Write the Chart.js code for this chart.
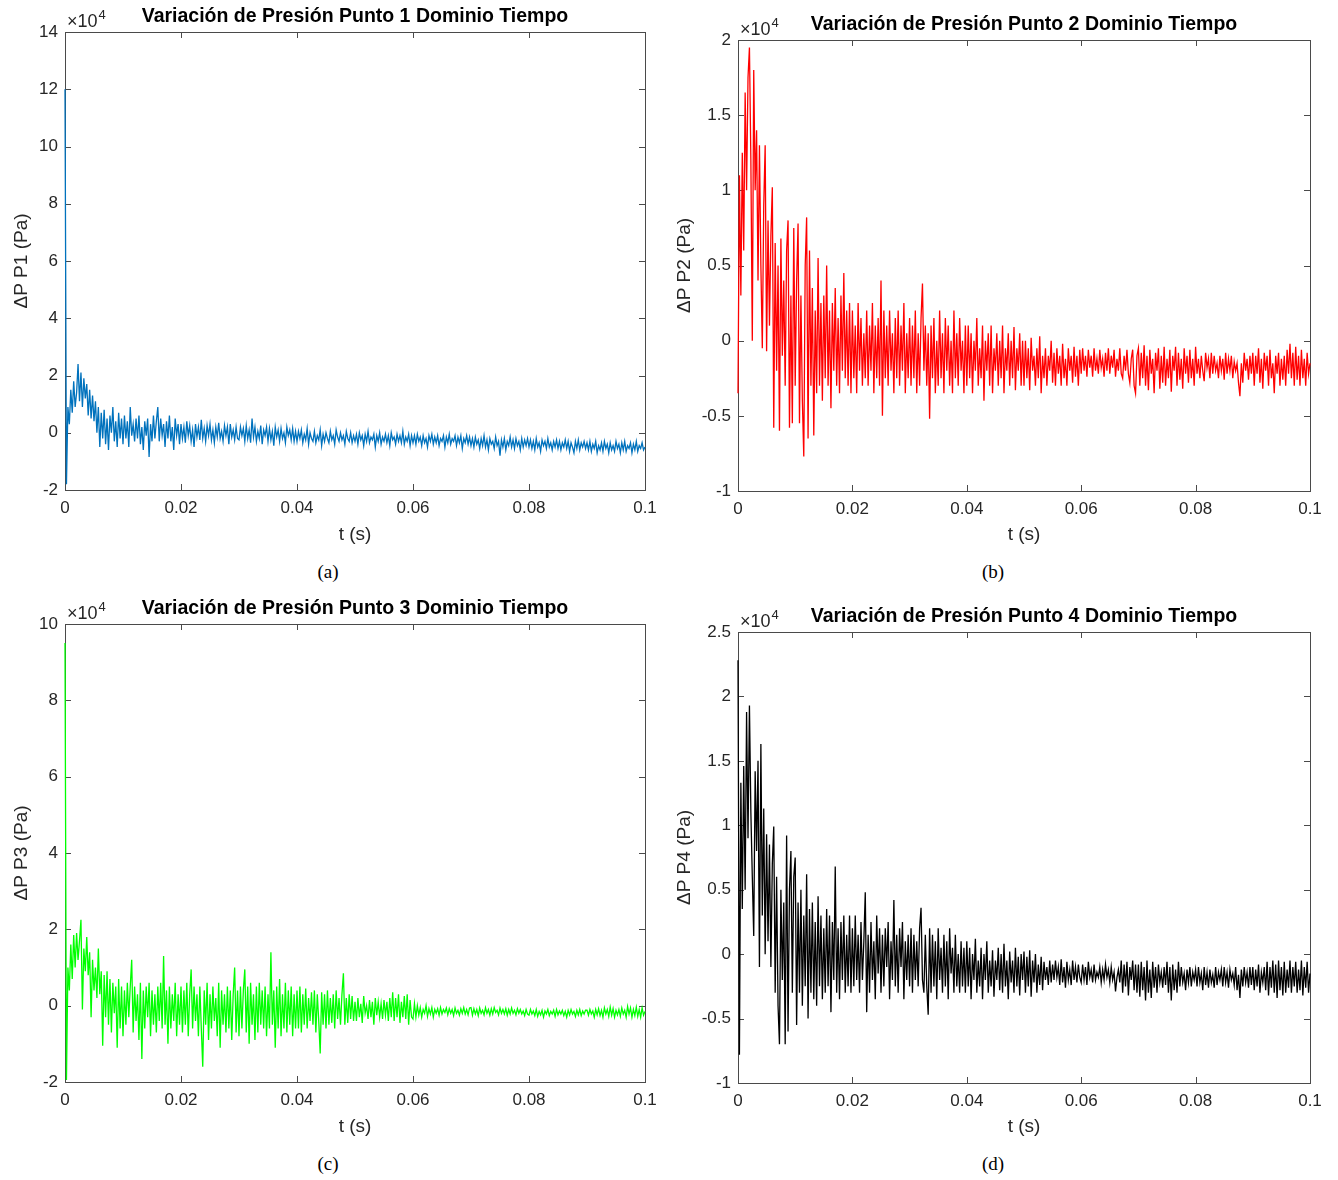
<!DOCTYPE html>
<html>
<head>
<meta charset="utf-8">
<script src="https://cdn.jsdelivr.net/npm/chart.js@4.4.0/dist/chart.umd.min.js"></script>
<style>
  body { margin: 0; background: #fff; }
  #page { position: relative; width: 1338px; height: 1180px; }
  canvas { position: absolute; }
  .cap { position: absolute; width: 100px; text-align: center; font: 19px "Liberation Serif", "Times New Roman", serif; color: #000; line-height: 22px; }
</style>
</head>
<body>
<div id="page">
  <canvas id="p1Chart" width="669" height="555" style="left:0;top:0"></canvas>
  <canvas id="p2Chart" width="673" height="555" style="left:665px;top:0"></canvas>
  <canvas id="p3Chart" width="669" height="555" style="left:0;top:592px"></canvas>
  <canvas id="p4Chart" width="673" height="555" style="left:665px;top:592px"></canvas>
  <div class="cap" style="left:278px;top:561px">(a)</div>
  <div class="cap" style="left:943px;top:561px">(b)</div>
  <div class="cap" style="left:278px;top:1153px">(c)</div>
  <div class="cap" style="left:943px;top:1153px">(d)</div>
</div>
<script>
// Presion en unidades de 1e4 Pa, muestras uniformes de 0 a 0.1 s
const T_END = 0.1;
const timeTicks = [0, 0.02, 0.04, 0.06, 0.08, 0.1];

const p1Ticks = [-2, 0, 2, 4, 6, 8, 10, 12, 14];
const p2Ticks = [-1, -0.5, 0, 0.5, 1, 1.5, 2];
const p3Ticks = [-2, 0, 2, 4, 6, 8, 10];
const p4Ticks = [-1, -0.5, 0, 0.5, 1, 1.5, 2, 2.5];

const p1Values = [
  12, -1.8, 0.9, 0.3, 1.5, 0.7, 1.8, 0.9, 1.4, 2.4, 1.1, 2.1, 0.9, 1.9, 1.2, 1.7, 0.6, 1.5, 0.5, 1.3,
  0.4, 1.1, 0.0, 0.9, -0.5, 0.7, -0.2, 0.8, -0.4, 0.5, -0.6, 0.6, 0.0, 0.9, -0.3, 0.4, -0.5, 0.7, -0.2, 0.5,
  -0.4, 0.6, -0.2, 0.4, -0.5, 0.9, -0.1, 0.3, -0.3, 0.5, -0.2, 0.6, -0.4, 0.2, -0.6, 0.4, -0.1, 0.5, -0.85, 0.3,
  -0.3, 0.6, -0.2, 0.4, 0.9, -0.3, 0.5, -0.1, 0.3, -0.5, 0.4, -0.2, 0.6, -0.3, 0.2, -0.6, 0.5, -0.1, 0.3, -0.4,
  0.3, -0.2, 0.2, -0.35, 0.4, -0.1, 0.25, -0.3, 0.1, -0.5, 0.3, -0.15, 0.2, -0.25, 0.45, -0.2, 0.15, -0.3, 0.25, -0.1,
  0.3, -0.25, 0.1, -0.35, 0.2, -0.15, 0.35, -0.2, 0.05, -0.3, 0.25, -0.1, 0.2, -0.4, 0.3, -0.15, 0.1, -0.25, 0.2, -0.2,
  -0.25, 0.2, -0.1, 0.15, -0.3, 0.25, -0.2, 0.1, -0.35, 0.5, -0.15, 0.2, -0.3, 0.05, -0.2, 0.25, -0.4, 0.1, -0.1, 0.2,
  -0.3, 0.15, -0.25, 0.05, -0.45, 0.2, -0.15, 0.1, -0.3, 0.15, -0.2, 0.0, -0.35, 0.2, -0.1, 0.1, -0.25, 0.15, -0.3, 0.05,
  -0.3, 0.05, -0.2, 0.1, -0.35, -0.05, -0.25, 0.15, -0.4, 0.0, -0.2, -0.3, 0.05, -0.35, -0.1, -0.25, 0.1, -0.45, -0.05, -0.3,
  0.0, -0.2, -0.35, 0.05, -0.25, -0.1, -0.4, 0.1, -0.15, -0.3, 0.0, -0.25, -0.1, -0.4, 0.05, -0.2, -0.3, 0.0, -0.35, -0.1,
  -0.3, -0.05, -0.4, 0.0, -0.25, -0.1, -0.45, -0.05, -0.3, 0.05, -0.35, -0.15, -0.25, -0.05, -0.5, -0.1, -0.3, 0.0, -0.4, -0.15,
  -0.3, -0.05, -0.35, -0.1, -0.45, 0.0, -0.25, -0.15, -0.4, -0.05, -0.3, -0.1, -0.35, 0.05, -0.4, -0.15, -0.3, -0.05, -0.45, -0.1,
  -0.35, -0.1, -0.4, -0.05, -0.3, -0.15, -0.45, -0.1, -0.35, -0.2, -0.5, -0.1, -0.3, -0.05, -0.4, -0.15, -0.35, -0.1, -0.45, -0.2,
  -0.3, -0.1, -0.5, -0.15, -0.35, -0.05, -0.4, -0.2, -0.3, -0.1, -0.45, -0.15, -0.35, -0.1, -0.55, -0.2, -0.35, -0.1, -0.4, -0.15,
  -0.45, -0.2, -0.5, -0.15, -0.4, -0.25, -0.55, -0.2, -0.45, -0.1, -0.5, -0.25, -0.6, -0.2, -0.4, -0.3, -0.55, -0.15, -0.45, -0.3,
  -0.8, -0.25, -0.5, -0.2, -0.6, -0.3, -0.45, -0.15, -0.5, -0.25, -0.55, -0.2, -0.45, -0.3, -0.6, -0.2, -0.5, -0.25, -0.45, -0.2,
  -0.5, -0.25, -0.55, -0.3, -0.6, -0.2, -0.5, -0.35, -0.65, -0.25, -0.45, -0.3, -0.55, -0.2, -0.5, -0.35, -0.6, -0.3, -0.5, -0.25,
  -0.55, -0.3, -0.6, -0.35, -0.5, -0.25, -0.55, -0.3, -0.65, -0.35, -0.5, -0.7, -0.3, -0.55, -0.25, -0.6, -0.35, -0.5, -0.3, -0.55,
  -0.35, -0.6, -0.3, -0.65, -0.4, -0.55, -0.3, -0.7, -0.45, -0.6, -0.35, -0.65, -0.3, -0.55, -0.4, -0.7, -0.35, -0.6, -0.45, -0.65,
  -0.3, -0.55, -0.4, -0.7, -0.35, -0.6, -0.3, -0.65, -0.45, -0.55, -0.35, -0.7, -0.4, -0.6, -0.3, -0.65, -0.45, -0.55, -0.35, -0.6, -0.5
];

const p2Values = [
  -0.35, 1.1, 0.3, 1.25, 0.6, 1.65, 1.0, 1.75, 1.95, 1.2, 0.0, 1.8, 1.0, 1.4, 0.4, 1.3, 0.5, -0.05, 0.9, 1.3,
  -0.07, 0.8, 0.1, 0.7, 1.02, -0.58, 0.65, -0.2, 0.5, -0.6, 0.68, -0.1, 0.4, -0.3, 0.6, 0.8, -0.58, 0.3, -0.55, 0.75,
  -0.3, 0.4, 0.78, -0.55, 0.3, -0.4, -0.77, 0.5, 0.82, -0.65, 0.6, -0.3, 0.35, -0.63, 0.2, -0.35, 0.55, -0.3, 0.25, -0.4,
  0.3, -0.25, 0.5, -0.3, 0.2, -0.45, 0.25, -0.2, 0.35, -0.3, 0.15, -0.35, 0.3, -0.2, 0.45, -0.25, 0.2, -0.3, 0.25, -0.35,
  0.2, -0.25, 0.1, -0.35, 0.25, -0.2, 0.15, -0.3, 0.05, -0.25, 0.2, -0.3, 0.1, -0.2, 0.25, -0.35, 0.1, -0.25, 0.15, -0.3,
  0.4, -0.5, 0.2, -0.25, 0.1, -0.3, 0.2, -0.2, 0.05, -0.35, 0.15, -0.25, 0.2, -0.3, 0.1, -0.2, 0.25, -0.35, 0.05, -0.25,
  0.15, -0.3, 0.1, -0.25, 0.2, -0.35, 0.05, -0.3, 0.15, 0.38, -0.2, 0.1, -0.3, 0.05, -0.52, 0.1, -0.25, 0.15, -0.35, 0.0,
  -0.3, 0.2, -0.25, 0.05, -0.35, 0.15, -0.2, 0.1, -0.3, 0.0, -0.35, 0.2, -0.25, 0.05, -0.3, 0.15, -0.2, 0.0, -0.35, 0.1,
  -0.3, 0.1, -0.25, 0.05, -0.35, 0.0, -0.2, 0.15, -0.3, -0.05, -0.25, 0.1, -0.4, 0.0, -0.2, 0.05, -0.3, 0.1, -0.35, -0.05,
  -0.2, 0.05, -0.3, 0.0, -0.25, 0.1, -0.35, -0.05, -0.2, 0.05, -0.3, 0.0, -0.25, 0.09, -0.33, -0.05, -0.2, 0.05, -0.3, 0.0,
  -0.3, 0.0, -0.25, -0.05, -0.33, 0.02, -0.2, -0.1, -0.3, -0.05, -0.25, 0.03, -0.35, -0.1, -0.25, -0.05, -0.3, -0.1, -0.2, 0.0,
  -0.28, -0.08, -0.3, -0.05, -0.22, -0.1, -0.3, -0.02, -0.25, -0.12, -0.3, -0.05, -0.2, -0.1, -0.28, -0.04, -0.24, -0.1, -0.3, -0.06,
  -0.22, -0.05, -0.2, -0.1, -0.24, -0.06, -0.18, -0.1, -0.24, -0.05, -0.2, -0.12, -0.22, -0.06, -0.18, -0.12, -0.24, -0.08, -0.2, -0.05,
  -0.22, -0.1, -0.18, -0.06, -0.24, -0.12, -0.2, -0.05, -0.22, -0.25, -0.1, -0.2, -0.06, -0.22, -0.28, -0.12, -0.06, -0.3, -0.35, -0.1,
  -0.05, -0.3, -0.08, -0.25, -0.03, -0.3, -0.1, -0.33, -0.06, -0.22, -0.12, -0.35, -0.08, -0.2, -0.05, -0.32, -0.1, -0.28, -0.04, -0.3,
  -0.12, -0.25, -0.06, -0.34, -0.1, -0.2, -0.04, -0.3, -0.08, -0.26, -0.12, -0.32, -0.05, -0.22, -0.1, -0.28, -0.06, -0.25, -0.12, -0.3,
  -0.04, -0.22, -0.12, -0.25, -0.1, -0.2, -0.27, -0.08, -0.18, -0.12, -0.25, -0.08, -0.22, -0.1, -0.2, -0.15, -0.25, -0.1, -0.2, -0.12,
  -0.26, -0.08, -0.22, -0.12, -0.2, -0.1, -0.25, -0.14, -0.2, -0.15, -0.28, -0.37, -0.15, -0.28, -0.08, -0.2, -0.12, -0.26, -0.1, -0.22,
  -0.08, -0.3, -0.1, -0.22, -0.05, -0.28, -0.12, -0.32, -0.08, -0.2, -0.1, -0.3, -0.06, -0.25, -0.15, -0.35, -0.1, -0.22, -0.08, -0.3,
  -0.12, -0.26, -0.1, -0.3, -0.06, -0.22, -0.02, -0.25, -0.08, -0.3, -0.04, -0.26, -0.1, -0.3, -0.06, -0.25, -0.12, -0.3, -0.08, -0.22, -0.15
];

const p3Values = [
  9.5, -1.95, 1.0, 0.4, 1.6, 0.7, 1.85, 1.0, 1.9, 1.2, 1.7, 2.25, -0.1, 1.5, 0.9, 1.8, 0.8, 1.4, -0.3, 1.2,
  0.4, 1.0, 0.2, 1.5, 0.3, 0.9, -1.05, 0.8, -0.3, 0.9, -0.5, 0.7, -0.7, 0.6, -0.2, 0.5, -1.1, 0.7, -0.6, 0.5,
  -0.8, 0.4, -0.5, 0.6, -0.3, 0.5, 1.2, -0.7, 0.5, -0.4, 0.3, -0.9, 0.6, -1.4, 0.4, -0.6, 0.5, -0.3, 0.6, -0.8,
  0.4, -0.5, 0.3, -0.7, 0.5, -0.4, 0.6, -0.6, 1.3, -0.5, 0.4, -1.0, 0.5, -0.6, 0.3, -0.4, 0.6, -0.8, 0.3, -0.5,
  0.5, -0.7, 0.4, -0.5, 0.6, -0.8, 0.3, 0.95, -0.6, 0.5, -0.4, 0.3, -0.8, 0.5, -0.6, -1.6, 0.4, -0.5, 0.6, -0.9,
  0.3, -0.6, 0.5, -0.4, 0.2, -0.8, 0.6, -1.1, 0.4, -0.5, 0.3, -0.7, 0.5, -0.6, 0.4, -0.9, 0.3, 1.0, -0.7, 0.4,
  -0.8, 0.5, -0.6, 0.4, 0.95, -0.7, 0.5, -1.0, 0.6, -0.5, 0.3, -0.9, 0.5, -0.7, 0.6, -0.5, 0.4, -0.6, 0.5, -0.8,
  0.3, -0.6, 1.4, -0.5, 0.4, -1.1, 0.5, -0.6, 0.7, -0.8, 0.3, -0.6, 0.6, -0.7, 0.4, -0.5, 0.5, -0.8, 0.3, -0.6,
  0.4, -0.6, 0.5, -0.7, 0.3, -0.5, 0.45, -0.6, 0.2, -0.4, 0.35, -0.5, 0.4, -0.7, 0.3, -0.4, -1.25, 0.35, -0.5, 0.3,
  -0.6, 0.4, -0.5, 0.2, -0.45, 0.3, -0.6, 0.4, -0.35, 0.2, -0.5, 0.3, 0.85, -0.5, 0.2, -0.45, 0.3, -0.35, 0.25, -0.4,
  0.1, -0.4, 0.2, -0.3, 0.05, -0.45, 0.25, -0.2, 0.0, -0.35, 0.15, -0.3, 0.1, -0.5, 0.2, -0.25, 0.1, -0.3, 0.05, -0.35,
  0.15, -0.25, 0.1, -0.4, 0.2, -0.3, 0.35, -0.4, 0.2, -0.3, 0.3, -0.45, 0.1, -0.3, 0.25, -0.35, 0.3, -0.5, 0.15, -0.3,
  -0.35, 0.05, -0.3, 0.0, -0.25, -0.05, -0.3, -0.1, -0.2, 0.0, -0.28, -0.08, -0.22, -0.05, -0.3, -0.1, -0.2, -0.08, -0.25, -0.05,
  -0.22, -0.1, -0.18, -0.06, -0.24, -0.08, -0.2, -0.1, -0.26, -0.06, -0.2, -0.12, -0.25, -0.08, -0.2, -0.05, -0.22, -0.1, -0.24, -0.06,
  -0.05, -0.25, -0.08, -0.22, -0.1, -0.26, -0.06, -0.2, -0.12, -0.24, -0.05, -0.2, -0.1, -0.25, -0.08, -0.22, -0.05, -0.18, -0.12, -0.24,
  -0.06, -0.2, -0.1, -0.22, -0.08, -0.25, -0.1, -0.22, -0.06, -0.2, -0.12, -0.24, -0.08, -0.2, -0.1, -0.22, -0.14, -0.26, -0.1, -0.22,
  -0.25, -0.1, -0.22, -0.14, -0.26, -0.1, -0.28, -0.15, -0.24, -0.12, -0.3, -0.14, -0.22, -0.1, -0.26, -0.15, -0.22, -0.12, -0.28, -0.1,
  -0.24, -0.14, -0.22, -0.12, -0.26, -0.15, -0.3, -0.12, -0.24, -0.1, -0.22, -0.15, -0.28, -0.12, -0.24, -0.1, -0.26, -0.14, -0.22, -0.12,
  -0.12, -0.25, -0.1, -0.22, -0.14, -0.3, -0.1, -0.24, -0.08, -0.26, -0.12, -0.3, -0.06, -0.22, -0.1, -0.28, -0.04, -0.25, -0.08, -0.3,
  -0.12, -0.24, -0.1, -0.28, -0.06, -0.22, -0.12, -0.3, -0.02, -0.22, -0.06, -0.3, -0.1, -0.26, -0.04, -0.28, -0.1, -0.3, -0.06, -0.25, -0.15
];

const p4Values = [
  2.28, -0.78, 1.33, 0.35, 1.46, 0.5, 1.88, 0.9, 1.93, 1.1, 0.6, 0.14, 1.42, 0.8, 1.5, -0.1, 1.63, 0.3, 1.13, 0.0,
  0.93, 0.1, 0.85, -0.1, 0.7, 0.99, -0.3, 0.6, -0.4, -0.7, 0.5, -0.2, 0.4, -0.7, 0.92, -0.6, 0.5, 0.8, -0.3, 0.6,
  0.75, -0.55, 0.4, -0.3, 0.5, -0.4, 0.3, -0.25, 0.62, -0.5, 0.35, -0.3, 0.4, -0.35, 0.25, -0.4, 0.45, -0.25, 0.3, -0.35,
  0.2, -0.3, 0.35, -0.25, 0.3, -0.45, 0.25, -0.2, 0.68, -0.3, 0.2, -0.35, 0.25, -0.2, 0.3, -0.3, 0.15, -0.25, 0.3, -0.3,
  0.2, -0.25, 0.3, -0.2, 0.15, -0.3, 0.25, -0.2, 0.1, 0.48, -0.45, 0.15, -0.3, 0.25, -0.2, 0.1, -0.35, 0.3, -0.15, 0.2,
  -0.3, 0.15, -0.25, 0.2, -0.1, 0.25, -0.35, 0.1, -0.2, 0.42, -0.25, 0.15, -0.3, 0.2, -0.1, 0.25, -0.35, 0.1, -0.2, 0.15,
  -0.25, 0.2, -0.3, 0.15, -0.2, 0.1, -0.25, 0.2, 0.36, -0.2, -0.3, 0.15, -0.25, -0.47, 0.2, -0.3, 0.15, -0.25, 0.1, -0.35,
  0.2, -0.2, 0.05, -0.3, 0.15, -0.25, 0.1, -0.35, 0.2, -0.15, 0.05, -0.3, 0.15, -0.25, 0.0, -0.3, 0.1, -0.25, 0.05, -0.3,
  0.1, -0.25, 0.05, -0.35, 0.0, -0.2, 0.12, -0.3, -0.05, -0.25, 0.05, -0.35, 0.0, -0.2, 0.1, -0.3, -0.05, -0.25, 0.03, -0.33,
  -0.05, -0.2, 0.05, -0.28, 0.0, -0.3, 0.08, -0.25, -0.05, -0.35, 0.02, -0.22, -0.05, -0.3, 0.05, -0.25, -0.02, -0.32, 0.0, -0.2,
  0.02, -0.3, -0.02, -0.25, 0.03, -0.33, -0.05, -0.22, 0.0, -0.3, -0.08, -0.24, -0.02, -0.28, -0.06, -0.2, -0.1, -0.24, -0.05, -0.22,
  -0.08, -0.2, -0.05, -0.18, -0.1, -0.24, -0.04, -0.22, -0.1, -0.26, -0.06, -0.2, -0.12, -0.24, -0.05, -0.2, -0.1, -0.22, -0.08, -0.18,
  -0.22, -0.08, -0.2, -0.1, -0.24, -0.06, -0.18, -0.12, -0.22, -0.08, -0.2, -0.14, -0.18, -0.1, -0.22, -0.12, -0.2, -0.08, -0.18, -0.12,
  -0.22, -0.1, -0.2, -0.14, -0.29, -0.18, -0.12, -0.22, -0.05, -0.3, -0.08, -0.25, -0.06, -0.32, -0.1, -0.2, -0.05, -0.28, -0.08, -0.3,
  -0.08, -0.33, -0.06, -0.28, -0.1, -0.36, -0.05, -0.3, -0.12, -0.34, -0.06, -0.26, -0.1, -0.3, -0.08, -0.22, -0.14, -0.26, -0.1, -0.24,
  -0.06, -0.3, -0.1, -0.36, -0.08, -0.28, -0.12, -0.3, -0.06, -0.25, -0.1, -0.22, -0.15, -0.28, -0.12, -0.22, -0.1, -0.25, -0.14, -0.2,
  -0.12, -0.25, -0.1, -0.22, -0.15, -0.28, -0.1, -0.24, -0.14, -0.26, -0.12, -0.22, -0.16, -0.26, -0.1, -0.24, -0.14, -0.2, -0.12, -0.25,
  -0.1, -0.22, -0.14, -0.26, -0.12, -0.2, -0.15, -0.24, -0.1, -0.28, -0.16, -0.34, -0.12, -0.25, -0.1, -0.22, -0.14, -0.26, -0.1, -0.24,
  -0.1, -0.28, -0.12, -0.25, -0.08, -0.3, -0.14, -0.22, -0.1, -0.28, -0.06, -0.32, -0.1, -0.26, -0.05, -0.3, -0.08, -0.34, -0.05, -0.28,
  -0.1, -0.32, -0.06, -0.3, -0.12, -0.26, -0.05, -0.3, -0.1, -0.25, -0.06, -0.3, -0.12, -0.28, -0.05, -0.32, -0.1, -0.26, -0.06, -0.3, -0.15
];

const FONT = '"Liberation Sans", Arial, Helvetica, sans-serif';
const AXIS_GRAY = '#262626';

// caja tipo MATLAB con marcas hacia dentro, titulo y multiplicador x10^4
const matlabBox = {
  id: 'matlabBox',
  beforeDatasetsDraw(chart, args, opts) {
    const { ctx, chartArea: a, scales: { x, y } } = chart;
    const tl = 6;
    ctx.save();
    ctx.strokeStyle = '#4a4a4a';
    ctx.lineWidth = 1;
    ctx.strokeRect(a.left + 0.5, a.top + 0.5, a.right - a.left, a.bottom - a.top);
    ctx.beginPath();
    x.ticks.forEach(t => {
      const px = Math.round(x.getPixelForValue(t.value)) + 0.5;
      ctx.moveTo(px, a.bottom); ctx.lineTo(px, a.bottom - tl);
      ctx.moveTo(px, a.top); ctx.lineTo(px, a.top + tl);
    });
    y.ticks.forEach(t => {
      const py = Math.round(y.getPixelForValue(t.value)) + 0.5;
      ctx.moveTo(a.left, py); ctx.lineTo(a.left + tl, py);
      ctx.moveTo(a.right, py); ctx.lineTo(a.right - tl, py);
    });
    ctx.stroke();

    ctx.fillStyle = '#000';
    ctx.font = 'bold 19.5px ' + FONT;
    ctx.textAlign = 'center';
    ctx.textBaseline = 'middle';
    ctx.fillText(opts.title, (a.left + a.right) / 2, a.top - 15);

    ctx.fillStyle = AXIS_GRAY;
    ctx.textAlign = 'left';
    ctx.textBaseline = 'alphabetic';
    ctx.font = '18px ' + FONT;
    ctx.fillText('\u00d710', a.left + 2, a.top - 5);
    const w = ctx.measureText('\u00d710').width;
    ctx.font = '13px ' + FONT;
    ctx.fillText('4', a.left + 3 + w, a.top - 13);
    ctx.restore();
  }
};

function makeChart(id, values, color, yTicks, yLabel, title, yWidth, yLabelPad, topPad, xHeight, rightPad) {
  const pts = values.map((v, i) => ({ x: i * T_END / (values.length - 1), y: v }));
  return new Chart(document.getElementById(id), {
    type: 'line',
    data: {
      datasets: [{
        data: pts,
        borderColor: color,
        borderWidth: 1.3,
        pointRadius: 0,
        tension: 0,
        fill: false,
        clip: false
      }]
    },
    options: {
      responsive: false,
      animation: false,
      devicePixelRatio: 1,
      layout: { padding: { top: topPad, right: rightPad, left: 0, bottom: 0 } },
      plugins: {
        legend: { display: false },
        tooltip: { enabled: false },
        matlabBox: { title: title }
      },
      scales: {
        x: {
          type: 'linear',
          min: 0,
          max: T_END,
          afterBuildTicks: s => { s.ticks = timeTicks.map(v => ({ value: v })); },
          afterFit: s => { s.height = xHeight; },
          grid: { display: false, drawTicks: false },
          border: { display: false },
          ticks: { padding: 8, color: AXIS_GRAY, font: { family: FONT, size: 17 }, maxRotation: 0, callback: v => String(v) },
          title: { display: true, text: 't (s)', color: AXIS_GRAY, font: { family: FONT, size: 19 }, padding: { top: 0, bottom: 9 } }
        },
        y: {
          type: 'linear',
          min: yTicks[0],
          max: yTicks[yTicks.length - 1],
          afterBuildTicks: s => { s.ticks = yTicks.map(v => ({ value: v })); },
          afterFit: s => { s.width = yWidth; },
          grid: { display: false, drawTicks: false },
          border: { display: false },
          ticks: { padding: 7, color: AXIS_GRAY, font: { family: FONT, size: 17 }, callback: v => String(v) },
          title: { display: true, text: yLabel, color: AXIS_GRAY, font: { family: FONT, size: 19 }, padding: { top: yLabelPad, bottom: 0 } }
        }
      }
    },
    plugins: [matlabBox]
  });
}

makeChart('p1Chart', p1Values, '#0072BD', p1Ticks, '\u0394P P1 (Pa)', 'Variación de Presión Punto 1 Dominio Tiempo', 65, 10.6, 32, 65, 24);
makeChart('p2Chart', p2Values, '#FF0000', p2Ticks, '\u0394P P2 (Pa)', 'Variación de Presión Punto 2 Dominio Tiempo', 73, 8.6, 40, 64, 28);
makeChart('p3Chart', p3Values, '#00FF00', p3Ticks, '\u0394P P3 (Pa)', 'Variación de Presión Punto 3 Dominio Tiempo', 65, 10.6, 32, 65, 24);
makeChart('p4Chart', p4Values, '#000000', p4Ticks, '\u0394P P4 (Pa)', 'Variación de Presión Punto 4 Dominio Tiempo', 73, 8.6, 40, 64, 28);
</script>
</body>
</html>
